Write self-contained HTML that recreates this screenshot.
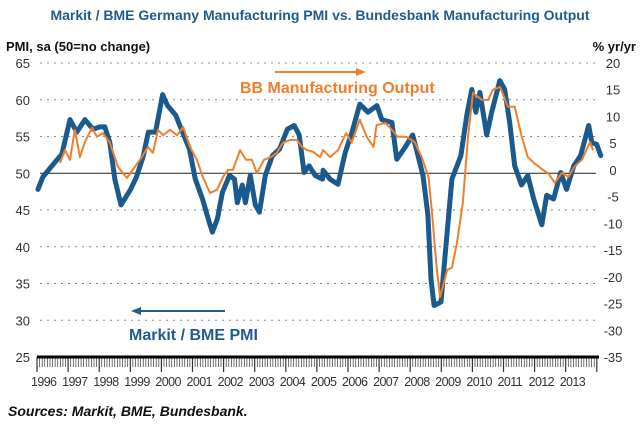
<!DOCTYPE html>
<html><head><meta charset="utf-8"><style>
body{margin:0;background:#fff;}
svg{display:block;font-family:"Liberation Sans",Arial,sans-serif;}
</style></head><body>
<svg id="chart" width="640" height="426" viewBox="0 0 640 426">
<text x="320" y="20" text-anchor="middle" font-size="14" font-weight="bold" fill="#1f5b8e">Markit / BME Germany Manufacturing PMI vs. Bundesbank Manufacturing Output</text>
<text x="6" y="51" font-size="13" font-weight="bold" fill="#111">PMI, sa (50=no change)</text>
<text x="636" y="51" text-anchor="end" font-size="13" font-weight="bold" fill="#111">% yr/yr</text>
<g id="grid"></g><g id="axes"></g><g id="series"></g>
<line x1="275" y1="72" x2="358" y2="72" stroke="#f07e2a" stroke-width="2"/>
<polygon points="366,72 356,68 356,76" fill="#f07e2a"/>
<text x="240" y="93" font-size="16" font-weight="bold" fill="#f07e2a">BB Manufacturing Output</text>
<line x1="225" y1="311" x2="140" y2="311" stroke="#1f5b8e" stroke-width="2"/>
<polygon points="131,311 141,307 141,315" fill="#1f5b8e"/>
<text x="129" y="340" font-size="16" font-weight="bold" fill="#1f5b8e">Markit / BME PMI</text>
<text x="8" y="416" font-size="14" font-weight="bold" font-style="italic" fill="#111">Sources: Markit, BME, Bundesbank.</text>
</svg>
<script>
const pmiDates=[1996.03,1996.19,1996.58,1996.80,1997.06,1997.28,1997.54,1997.80,1998.02,1998.18,1998.34,1998.50,1998.70,1999.01,1999.20,1999.42,1999.58,1999.81,2000.04,2000.20,2000.46,2000.68,2000.90,2001.09,2001.32,2001.54,2001.64,2001.80,2001.96,2002.19,2002.35,2002.44,2002.60,2002.70,2002.86,2003.02,2003.15,2003.34,2003.57,2003.80,2004.05,2004.27,2004.43,2004.59,2004.75,2004.95,2005.18,2005.20,2005.42,2005.68,2005.91,2006.13,2006.38,2006.64,2006.93,2007.09,2007.41,2007.57,2007.83,2008.08,2008.25,2008.41,2008.57,2008.67,2008.77,2008.99,2009.15,2009.34,2009.63,2009.82,2009.98,2010.11,2010.24,2010.46,2010.62,2010.88,2011.04,2011.20,2011.36,2011.58,2011.78,2011.97,2012.23,2012.39,2012.61,2012.84,2013.03,2013.26,2013.48,2013.74,2013.84,2014.00,2014.13];
const pmiValues=[47.8,49.5,51.5,52.6,57.3,55.6,57.3,56.0,56.3,56.3,54.2,49.2,45.7,47.8,49.5,52.4,55.6,55.6,60.7,59.2,57.9,55.6,53.3,49.2,46.5,43.3,42.0,43.8,47.4,49.7,49.2,46.0,48.4,46.0,49.7,45.7,44.7,49.7,52.4,53.3,56.0,56.5,55.2,50.1,51.0,49.7,49.2,50.4,49.2,48.5,52.8,55.6,59.4,58.3,59.2,57.3,56.9,51.9,53.5,55.2,52.4,49.7,44.3,35.6,32.0,32.5,40.2,49.2,52.4,57.9,61.4,58.3,61.0,55.2,58.3,62.6,61.4,56.9,51.0,48.4,49.7,46.5,43.0,47.0,46.5,50.1,47.8,51.0,52.4,56.5,54.2,53.9,52.4];
const outDates=[1996.74,1996.90,1997.06,1997.22,1997.38,1997.54,1997.77,1997.93,1998.12,1998.34,1998.60,1998.89,1999.15,1999.37,1999.57,1999.73,1999.89,2000.05,2000.28,2000.50,2000.70,2000.92,2001.14,2001.33,2001.56,2001.79,2001.98,2002.14,2002.30,2002.53,2002.72,2002.91,2003.07,2003.30,2003.52,2003.71,2003.91,2004.14,2004.36,2004.52,2004.68,2004.87,2005.10,2005.20,2005.42,2005.68,2005.94,2006.12,2006.38,2006.60,2006.82,2006.92,2007.21,2007.50,2007.59,2007.88,2008.14,2008.37,2008.59,2008.70,2008.86,2008.96,2009.19,2009.34,2009.50,2009.69,2009.86,2010.02,2010.31,2010.50,2010.66,2010.89,2011.14,2011.36,2011.59,2011.78,2011.98,2012.27,2012.43,2012.65,2012.87,2013.09,2013.28,2013.52,2013.78,2013.88];
const outValues=[1.3,3.7,1.9,7.5,2.4,5.2,7.9,6.2,6.9,5.1,0.6,-1.5,0.6,2.4,4.3,3.2,7.5,6.5,7.5,6.5,8.0,4.3,1.9,-1.3,-4.3,-3.7,-1.3,0.0,0.0,3.7,1.9,1.9,-0.6,1.9,2.4,3.2,5.1,5.6,5.6,4.3,3.7,3.4,2.4,3.7,2.4,3.7,6.9,5.1,9.4,6.2,4.3,8.4,8.8,6.9,6.2,6.2,5.2,2.4,-1.3,-8.0,-18.7,-23.8,-18.7,-18.3,-13.7,-6.2,6.2,14.4,13.1,13.1,15.0,15.5,11.8,11.8,6.2,2.4,1.3,0.0,-0.6,-2.4,-0.6,-1.3,0.6,1.9,5.2,3.7,3.7];
const leftTicks=[65,60,55,50,45,40,35,30,25];
const rightTicks=[20,15,10,5,0,-5,-10,-15,-20,-25,-30,-35];
const yearLabels=["1996","1997","1998","1999","2000","2001","2002","2003","2004","2005","2006","2007","2008","2009","2010","2011","2012","2013"];

const NS="http://www.w3.org/2000/svg";
const X0=37,X1=599,T=63,B=357;
const xS=y=>X0+(y-1996)*31.1;
const yL=v=>T+(65-v)*(B-T)/40;
const yR=v=>T+(20-v)*(B-T)/55;
function mk(tag,attrs,parent,txt){const e=document.createElementNS(NS,tag);for(const k in attrs)e.setAttribute(k,attrs[k]);if(txt!==undefined)e.textContent=txt;parent.appendChild(e);return e;}
const grid=document.getElementById('grid'),axes=document.getElementById('axes'),ser=document.getElementById('series');
leftTicks.forEach(v=>{
  const y=yL(v);
  if(v>25){const l=mk('line',{x1:40,x2:596,y1:y,y2:y,stroke:v===50?'#222':'#888','stroke-width':1,'stroke-dasharray':v===50?'none':'2,5'},grid);
  
  }
  const t=mk('text',{x:30,y:y+5,'text-anchor':'end','font-size':13,fill:'#333'},axes,String(v));
  
  
});
rightTicks.forEach(v=>{
  const t=mk('text',{x:613,y:yR(v)+5,'text-anchor':'middle','font-size':13,fill:'#333'},axes,String(v));
  
  
});
for(let m=0;m<=216;m++){
  const x=xS(1996+m/12);
  const tk=mk('line',{x1:x,x2:x,y1:B,y2:B+(m%12===0?15:10),stroke:'#333','stroke-width':m%12===0?1.2:0.7},axes);
  
  
}
const ax=mk('line',{x1:X0,x2:X1,y1:B,y2:B,stroke:'#000','stroke-width':3},axes);


yearLabels.forEach((lab,i)=>{
  const t=mk('text',{x:xS(1996+i)-6,y:386,'font-size':12.5,fill:'#333','letter-spacing':'-0.6'},axes,lab);
  
  
});
const pmiPath=mk('polyline',{points:pmiDates.map((d,i)=>xS(d).toFixed(1)+','+yL(pmiValues[i]).toFixed(1)).join(' '),fill:'none',stroke:'#1b5a8c','stroke-width':5,'stroke-linejoin':'round','stroke-linecap':'round'},ser);


const outPath=mk('polyline',{points:outDates.map((d,i)=>xS(d).toFixed(1)+','+yR(outValues[i]).toFixed(1)).join(' '),fill:'none',stroke:'#f07e2a','stroke-width':2,'stroke-linejoin':'round'},ser);


</script>
</body></html>
